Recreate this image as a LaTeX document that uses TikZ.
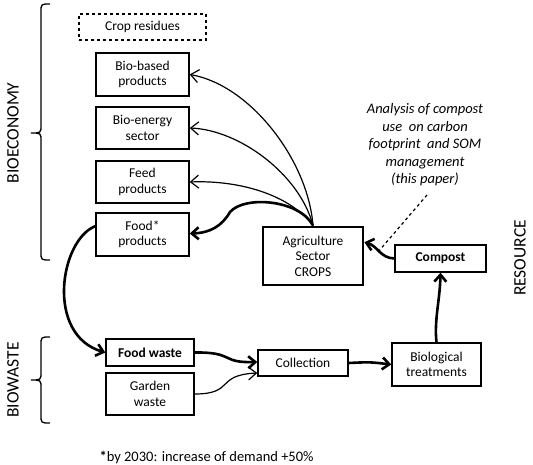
\documentclass[tikz,border=0pt]{standalone}
\usepackage{fontspec}
\setmainfont{Carlito}
\usetikzlibrary{arrows.meta}
\tikzset{
  box/.style={draw, line width=1.4pt, align=center, inner sep=1pt, font=\fontsize{13.5}{15.5}\selectfont},
  thinarr/.style={line width=1.2pt, -{Straight Barb[length=8pt,width=13pt,line width=1.2pt]}},
  thickarr/.style={line width=2.6pt, -{Straight Barb[length=7pt,width=12pt,line width=2.6pt]}},
  bigtext/.style={font=\fontsize{17.5}{20}\selectfont},
  bracestyle/.style={line width=1.3pt}
}
\begin{document}
\begin{tikzpicture}[x=1pt,y=-1pt]
\useasboundingbox (0,0) rectangle (533,465);
% boxes
\node[box, dashed, minimum width=127pt, minimum height=26pt] (crop) at (142.5,27) {Crop residues};
\node[box, minimum width=93pt, minimum height=43pt] (bio) at (142.5,74.5) {Bio-based\\products};
\node[box, minimum width=93pt, minimum height=42pt] (energy) at (142.5,128) {Bio-energy\\sector};
\node[box, minimum width=93pt, minimum height=42pt] (feed) at (142.5,182) {Feed\\products};
\node[box, minimum width=93pt, minimum height=43pt] (food) at (142.5,234.5) {Food*\\products};
\node[box, line width=2.8pt, minimum width=100pt, minimum height=58pt] (agri) at (313,256) {Agriculture\\Sector\\CROPS};
\node[box, minimum width=91pt, minimum height=27pt, font=\fontsize{13.5}{15.5}\selectfont\bfseries] (compost) at (440.5,258.5) {Compost};
\node[box, minimum width=88pt, minimum height=27pt, font=\fontsize{13.5}{15.5}\selectfont\bfseries] (foodwaste) at (150,352.5) {Food waste};
\node[box, minimum width=88pt, minimum height=42pt] (garden) at (150,394) {Garden\\waste};
\node[box, minimum width=90pt, minimum height=26pt] (collection) at (303,363) {Collection};
\node[box, minimum width=89pt, minimum height=43pt] (biotreat) at (436.5,364.5) {Biological\\treatments};
% texts
\node[align=center, font=\fontsize{14.5}{17.5}\selectfont\itshape] (analysis) at (425,145) {Analysis of compost\\use~~on carbon\\footprint~~and SOM\\management\\(this paper)};
\node[bigtext, rotate=90] (bioeco) at (13,133) {BIOECONOMY};
\node[bigtext, rotate=90] (biowaste) at (13,380) {BIOWASTE};
\node[bigtext, rotate=90] (resource) at (520,258) {RESOURCE};
\node[anchor=west, font=\fontsize{14.5}{17}\selectfont] (foot) at (96,457) {\textbf{*}by 2030: increase of demand +50\%};
% braces
\draw[bracestyle] (50,4) .. controls (41,4) .. (41,12) -- (41,125) .. controls (41,133) .. (31,133) .. controls (41,133) .. (41,141) -- (41,252) .. controls (41,260) .. (50,260);
\draw[bracestyle] (50,337) .. controls (41,337) .. (41,345) -- (41,372) .. controls (41,380) .. (31,380) .. controls (41,380) .. (41,388) -- (41,415) .. controls (41,423) .. (50,423);
% arrows from agriculture
\draw[thinarr] (agri.north) .. controls (308,160) and (250,85) .. (bio.east);
\draw[thinarr] (agri.north) .. controls (300,175) and (240,130) .. (energy.east);
\draw[thinarr] (agri.north) .. controls (290,195) and (240,180) .. (feed.east);
\draw[thickarr] (agri.north) .. controls (300,200) and (245,195) .. (230,212) .. controls (222,226) and (210,233) .. ([yshift=1pt]food.east);
% food to food waste
\draw[thickarr] (food.170) .. controls (60,240) and (45,335) .. (foodwaste.west);
% waste to collection
\draw[thickarr] (foodwaste.east) .. controls (235,352) and (220,363) .. ([yshift=1pt]collection.west);
\draw[thinarr] (garden.east) .. controls (235,394) and (215,375) .. ([yshift=-10pt]collection.west);
\draw[thickarr] (collection.east) .. controls (370,362) .. (biotreat.west);
\draw[thickarr] (biotreat.north) .. controls (434,320) and (440,300) .. (compost.south);
\draw[thickarr] (compost.west) .. controls (380,258) and (378,246) .. (agri.15);
% dashed
\coordinate (dashA) at (427,195);
\coordinate (dashB) at (378,252);
\draw[line width=1.2pt, dashed] (dashA) -- (dashB);
\end{tikzpicture}
\end{document}
